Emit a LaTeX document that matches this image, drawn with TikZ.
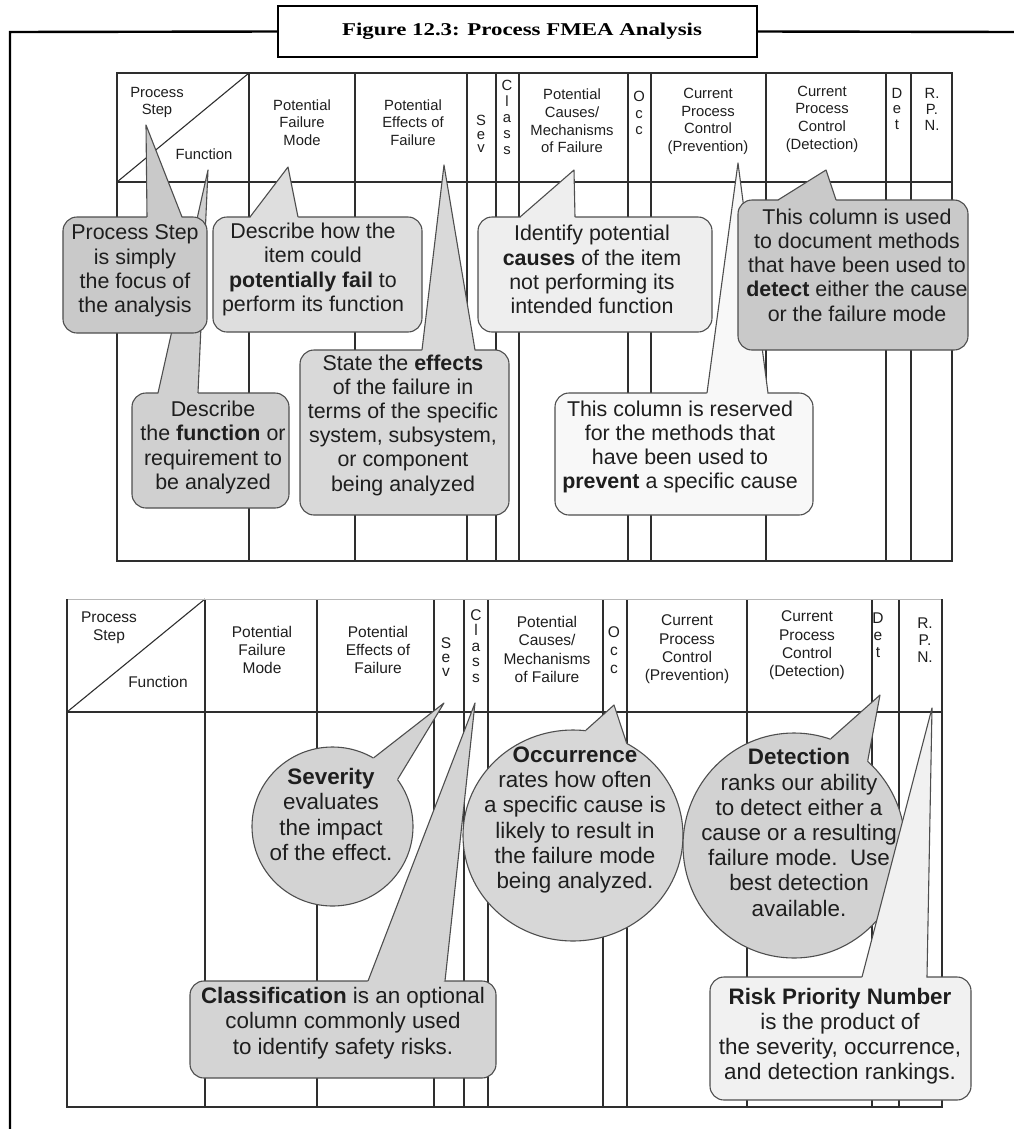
\documentclass[tikz,border=0pt]{standalone}
\usepackage{graphicx}
\usepackage{fontspec}
\setmainfont{Liberation Sans}
\newfontfamily\titlefont{Liberation Serif}
\usetikzlibrary{calc,shapes.geometric}

\definecolor{ink}{HTML}{1E1E1E}
\definecolor{rule}{HTML}{2E2E2E}
\definecolor{edge}{HTML}{4E4E4E}
\definecolor{gPs}{HTML}{C9C9C9}
\definecolor{gFn}{HTML}{D0D0D0}
\definecolor{gDh}{HTML}{DEDEDE}
\definecolor{gEf}{HTML}{D9D9D9}
\definecolor{gId}{HTML}{EEEEEE}
\definecolor{gDe}{HTML}{C9C9C9}
\definecolor{gPr}{HTML}{F8F8F8}
\definecolor{gSev}{HTML}{D3D3D3}
\definecolor{gCls}{HTML}{D4D4D4}
\definecolor{gOcc}{HTML}{D7D7D7}
\definecolor{gDet}{HTML}{D2D2D2}
\definecolor{gRpn}{HTML}{F1F1F1}

\tikzset{
  frameline/.style={line width=2.4bp, draw=black},
  outer/.style={line width=2.2bp, draw=rule},
  grid/.style={line width=1.1bp, draw=rule},
  hdrT/.style={font=\fontsize{14.8bp}{17.6bp}\selectfont, align=center, inner sep=0pt, text=ink},
  hdrB/.style={font=\fontsize{15.5bp}{18.3bp}\selectfont, align=center, inner sep=0pt, text=ink},
  calltext/.style={font=\fontsize{21.4bp}{24.2bp}\selectfont, align=center, inner sep=0pt, text=ink},
  calltextB/.style={font=\fontsize{22.4bp}{25.2bp}\selectfont, align=center, inner sep=0pt, text=ink},
  callbox/.style={rectangle, draw=edge, line width=1.1bp, rounded corners=14bp, inner sep=0pt},
  callround/.style={ellipse, draw=edge, line width=1.1bp, inner sep=0pt},
  callline/.style={draw=edge, line width=1.1bp, line join=round},
}

% pointer of a callout: base points #2 and #4 on the border of node #1, tip #3
\newcommand\callpointer[5]{%
  \fill[#5] ($(#2)!2.5pt!(#1.center)$) -- (#2) -- (#3) -- (#4) -- ($(#4)!2.5pt!(#1.center)$) -- cycle;
  \draw[callline] (#2) -- (#3) -- (#4);
}

\begin{document}
\begin{tikzpicture}[x=1bp,y=-1bp]
\useasboundingbox (0,0) rectangle (1014,1129);

% ---------- figure frame and caption ----------
\node[draw=black, line width=2.4bp, minimum width=479bp, minimum height=51bp, inner sep=0pt] (titlebox) at (517.5,31.5) {};
\node[inner sep=0pt] (title) at (522,31) {\scalebox{1.27}[1]{\titlefont\bfseries\fontsize{18bp}{20bp}\selectfont Figure 12.3: Process FMEA Analysis}};
\coordinate (frTL) at (10,32);
\coordinate (frBL) at (10,1131);
\coordinate (frR) at (1016,32);
\draw[frameline] (titlebox.west) -- (frTL) -- (frBL);
\draw[frameline] (titlebox.east) -- (frR);

% ---------- upper form ----------
\foreach \x in {249,355,467,496,519,628,651,766,886,911}
  \draw[grid] (\x,73) -- (\x,561);
\draw[grid] (117,182) -- (952,182);
\draw[grid] (117,182) -- (249,73);
\draw[outer] (117,73) rectangle (952,561);

\node[hdrT] (tPS) at (157,102.5) {Process\\Step};
\node[hdrT] (tFn) at (204,154) {Function};
\node[hdrT] (tFM) at (302,122.5) {Potential\\Failure\\Mode};
\node[hdrT] (tEF) at (413,122.5) {Potential\\Effects of\\Failure};
\node[hdrT, font=\fontsize{14.8bp}{13.6bp}\selectfont] (tSev) at (481,134) {S\\e\\v};
\node[hdrT, font=\fontsize{14.8bp}{16.2bp}\selectfont] (tCls) at (507,117.5) {C\\l\\a\\s\\s};
\node[hdrT] (tCa) at (572,121) {Potential\\Causes/\\Mechanisms\\of Failure};
\node[hdrT, font=\fontsize{14.8bp}{16.5bp}\selectfont] (tOcc) at (639,113) {O\\c\\c};
\node[hdrT] (tPv) at (708,121.5) {Current\\Process\\Control\\(Prevention)};
\node[hdrT] (tDt) at (822,119) {Current\\Process\\Control\\(Detection)};
\node[hdrT, font=\fontsize{14.8bp}{15.5bp}\selectfont] (tDet) at (897,108.5) {D\\e\\t};
\node[hdrT, font=\fontsize{14.8bp}{16bp}\selectfont] (tRpn) at (932,109) {R.\\P.\\N.};

% function callout (its pointer runs behind the process step box)
\node[callbox, fill=gFn, minimum width=157bp, minimum height=115bp] (fnBox) at (210.5,450.5) {};
\coordinate (fnA) at (158,393); \coordinate (fnTip) at (208,170); \coordinate (fnB) at (198,393);
\callpointer{fnBox}{fnA}{fnTip}{fnB}{gFn}
\node[calltext] (fnText) at (213,447.5) {Describe\\the \textbf{function} or\\requirement to\\be analyzed};

% process step callout
\node[callbox, fill=gPs, minimum width=144bp, minimum height=116bp] (psBox) at (135,275) {};
\coordinate (psA) at (147,217); \coordinate (psTip) at (146,125); \coordinate (psB) at (182,217);
\callpointer{psBox}{psA}{psTip}{psB}{gPs}
\node[calltext] (psText) at (135,271) {Process Step\\is simply\\the focus of\\the analysis};

% failure mode callout
\node[callbox, fill=gDh, minimum width=209bp, minimum height=115bp] (dhBox) at (317.5,274.5) {};
\coordinate (dhA) at (250,217); \coordinate (dhTip) at (288,167); \coordinate (dhB) at (298,217);
\callpointer{dhBox}{dhA}{dhTip}{dhB}{gDh}
\node[calltext] (dhText) at (313,269.5) {Describe how the\\item could\\\textbf{potentially fail} to\\perform its function};

% effects callout
\node[callbox, fill=gEf, minimum width=209bp, minimum height=165bp] (efBox) at (404.5,432.5) {};
\coordinate (efA) at (422,350); \coordinate (efTip) at (444,165); \coordinate (efB) at (475,350);
\callpointer{efBox}{efA}{efTip}{efB}{gEf}
\node[calltext] (efText) at (403,425) {State the \textbf{effects}\\of the failure in\\terms of the specific\\system, subsystem,\\or component\\being analyzed};

% causes callout
\node[callbox, fill=gId, minimum width=234bp, minimum height=115bp] (idBox) at (595,274.5) {};
\coordinate (idA) at (520,217); \coordinate (idTip) at (574,170); \coordinate (idB) at (575,217);
\callpointer{idBox}{idA}{idTip}{idB}{gId}
\node[calltext] (idText) at (592,269.5) {Identify potential\\\textbf{causes} of the item\\not performing its\\intended function};

% prevention callout (its pointer runs behind the detection box)
\node[callbox, fill=gPr, minimum width=258bp, minimum height=122bp] (prBox) at (684,454) {};
\coordinate (prA) at (707,393); \coordinate (prTip) at (738,163); \coordinate (prB) at (768,393);
\callpointer{prBox}{prA}{prTip}{prB}{gPr}
\node[calltext] (prText) at (680,447) {This column is reserved\\for the methods that\\have been used to\\\textbf{prevent} a specific cause};

% detection callout
\node[callbox, fill=gDe, minimum width=230bp, minimum height=150bp] (deBox) at (853,275) {};
\coordinate (deA) at (778,200); \coordinate (deTip) at (826,170); \coordinate (deB) at (836,200);
\callpointer{deBox}{deA}{deTip}{deB}{gDe}
\node[calltext] (deText) at (857,265) {This column is used\\to document methods\\that have been used to\\\textbf{detect} either the cause\\or the failure mode};

% ---------- lower form ----------
\foreach \x in {205,317,434,464,488,603,627,747,872,899}
  \draw[grid] (\x,599) -- (\x,1107);
\draw[grid] (67,712) -- (942,712);
\draw[grid] (67,712) -- (205,599);
\draw[draw=black!28, line width=1bp] (67,599) -- (942,599);
\draw[outer] (67,599) -- (67,1107) -- (942,1107) -- (942,599);

\node[hdrB] (bPS) at (109,627.5) {Process\\Step};
\node[hdrB] (bFn) at (158,682) {Function};
\node[hdrB] (bFM) at (262,650) {Potential\\Failure\\Mode};
\node[hdrB] (bEF) at (378,650) {Potential\\Effects of\\Failure};
\node[hdrB, font=\fontsize{15.5bp}{13.6bp}\selectfont] (bSev) at (446,657) {S\\e\\v};
\node[hdrB, font=\fontsize{15.5bp}{15.5bp}\selectfont] (bCls) at (476,646) {C\\l\\a\\s\\s};
\node[hdrB] (bCa) at (547,649.5) {Potential\\Causes/\\Mechanisms\\of Failure};
\node[hdrB, font=\fontsize{15.5bp}{18bp}\selectfont] (bOcc) at (614,650) {O\\c\\c};
\node[hdrB] (bPv) at (687,649.5) {Current\\Process\\Control\\(Prevention)};
\node[hdrB] (bDt) at (807,645.5) {Current\\Process\\Control\\(Detection)};
\node[hdrB, font=\fontsize{15.5bp}{17bp}\selectfont] (bDet) at (878,635) {D\\e\\t};
\node[hdrB, font=\fontsize{15.5bp}{17bp}\selectfont] (bRpn) at (925,640) {R.\\P.\\N.};

% severity
\node[callround, fill=gSev, minimum width=161bp, minimum height=159bp] (sevC) at (332.5,826.5) {};
\coordinate (sevTip) at (444,703);
\callpointer{sevC}{sevC.59}{sevTip}{sevC.36}{gSev}
\node[calltextB] (sevText) at (331,814.5) {\textbf{Severity}\\evaluates\\the impact\\of the effect.};

% classification
\node[callbox, fill=gCls, minimum width=306bp, minimum height=97bp] (clsBox) at (343,1029.5) {};
\coordinate (clsA) at (368,981); \coordinate (clsTip) at (475,703); \coordinate (clsB) at (445,981);
\callpointer{clsBox}{clsA}{clsTip}{clsB}{gCls}
\node[calltextB] (clsText) at (343,1023) {\textbf{Classification} is an optional\\column commonly used\\to identify safety risks.};

% occurrence
\node[callround, fill=gOcc, minimum width=220bp, minimum height=211bp] (occC) at (573,835.5) {};
\coordinate (occTip) at (614,705);
\callpointer{occC}{occC.83}{occTip}{occC.60}{gOcc}
\node[calltextB] (occText) at (575,820) {\textbf{Occurrence}\\rates how often\\a specific cause is\\likely to result in\\the failure mode\\being analyzed.};

% detection
\node[callround, fill=gDet, minimum width=222bp, minimum height=225bp] (detC) at (794,845.5) {};
\coordinate (detTip) at (880,695);
\callpointer{detC}{detC.71}{detTip}{detC.49}{gDet}
\node[calltextB] (detText) at (799,832.5) {\textbf{Detection}\\ranks our ability\\to detect either a\\cause or a resulting\\failure mode.\ \ Use\\best detection\\available.};

% risk priority number
\node[callbox, fill=gRpn, minimum width=261bp, minimum height=123bp] (rpnBox) at (840.5,1038.5) {};
\coordinate (rpnA) at (862,977); \coordinate (rpnTip) at (932,708); \coordinate (rpnB) at (927,977);
\callpointer{rpnBox}{rpnA}{rpnTip}{rpnB}{gRpn}
\node[calltextB] (rpnText) at (840,1036) {\textbf{Risk Priority Number}\\is the product of\\the severity, occurrence,\\and detection rankings.};

\end{tikzpicture}
\end{document}
